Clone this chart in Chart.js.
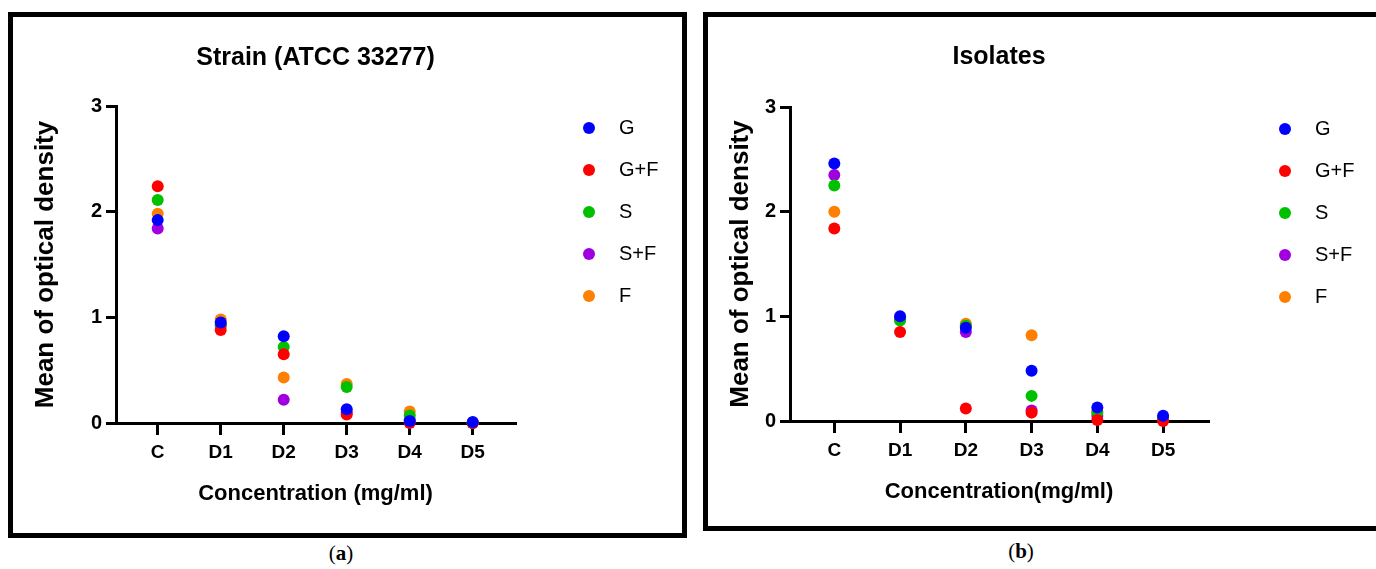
<!DOCTYPE html>
<html>
<head>
<meta charset="utf-8">
<script src="https://cdn.jsdelivr.net/npm/chart.js@4.4.1/dist/chart.umd.min.js"></script>
<style>
  html, body { margin:0; padding:0; background:#fff; width:1376px; height:569px; overflow:hidden; position:relative; }
  .panel { position:absolute; border:5px solid #000; background:#fff; }
  .panel canvas { display:block; }
  .cap { position:absolute; width:60px; text-align:center; font-family:'Liberation Serif','DejaVu Serif',serif; font-size:21px; line-height:24px; color:#000; }
</style>
</head>
<body>
<div class="panel" style="left:8px;top:12px;width:669px;height:516px;"><canvas id="c1" width="669" height="516"></canvas></div>
<div class="panel" style="left:703px;top:12px;width:669px;height:509px;"><canvas id="c2" width="669" height="509"></canvas></div>
<div class="cap" style="left:311px;top:541px;">(<b>a</b>)</div>
<div class="cap" style="left:991px;top:539px;">(<b>b</b>)</div>
<script>
// ---- data ----
const categories = ['C', 'D1', 'D2', 'D3', 'D4', 'D5'];
const seriesNames = ['G', 'G+F', 'S', 'S+F', 'F'];
const seriesColors = ['#0000FF', '#FF0000', '#00C000', '#A000E0', '#FF8000'];
const yTicks = [0, 1, 2, 3];

// Strain (ATCC 33277)
const strainG  = [1.92, 0.95, 0.82, 0.13, 0.02, 0.01];
const strainGF = [2.24, 0.88, 0.65, 0.08, 0.00, 0.00];
const strainS  = [2.11, 0.93, 0.72, 0.34, 0.07, 0.00];
const strainSF = [1.84, 0.92, 0.22, 0.10, 0.03, 0.00];
const strainF  = [1.98, 0.98, 0.43, 0.37, 0.11, 0.00];

// Isolates
const isoG  = [2.46, 1.00, 0.89, 0.48, 0.13, 0.05];
const isoGF = [1.84, 0.85, 0.12, 0.08, 0.01, 0.00];
const isoS  = [2.25, 0.96, 0.91, 0.24, 0.08, 0.03];
const isoSF = [2.35, 0.97, 0.85, 0.10, 0.05, 0.02];
const isoF  = [2.00, 0.98, 0.93, 0.82, 0.09, 0.02];

Chart.defaults.font.family = "'Liberation Sans', Arial, sans-serif";
Chart.defaults.color = '#000';

function dotImage(color) {
  const c = document.createElement('canvas');
  c.width = 14; c.height = 14;
  const x = c.getContext('2d');
  x.fillStyle = color;
  x.beginPath(); x.arc(7, 7, 6, 0, Math.PI * 2); x.fill();
  return c;
}
const legendDots = seriesColors.map(dotImage);

const legendPos = {
  id: 'legendPos',
  afterLayout(chart, args, opts) {
    const lg = chart.legend;
    if (lg) {
      lg.left = opts.left; lg.top = opts.top;
      lg.width = 130; lg.height = 240;
      lg.right = opts.left + 130; lg.bottom = opts.top + 240;
    }
  }
};

function makeChart(id, title, xTitle, seriesValues, cfg) {
  const datasets = seriesValues.map((vals, i) => ({
    label: seriesNames[i],
    data: vals.map((v, j) => ({ x: j, y: v })),
    backgroundColor: seriesColors[i],
    borderColor: seriesColors[i],
    pointRadius: 6,
    pointBorderWidth: 0,
    pointHoverRadius: 6,
    showLine: false,
    clip: false
  }));
  return new Chart(document.getElementById(id), {
    type: 'scatter',
    data: { datasets },
    plugins: [legendPos],
    options: {
      responsive: false,
      animation: false,
      devicePixelRatio: 1,
      layout: { padding: { top: 10, left: 17, right: cfg.padRight, bottom: 0 } },
      plugins: {
        tooltip: { enabled: false },
        title: {
          display: true, text: title, fullSize: false, color: '#000',
          font: { size: 25, weight: 'bold' },
          padding: { top: cfg.titleTop, bottom: cfg.titleBottom }
        },
        legend: {
          display: true, position: 'chartArea', align: 'start',
          labels: {
            usePointStyle: true, pointStyleWidth: 40, boxHeight: 12,
            padding: 22, color: '#000',
            font: { size: 20, weight: 'normal' },
            generateLabels: () => seriesNames.map((n, i) => ({
              text: n, fillStyle: seriesColors[i], strokeStyle: seriesColors[i],
              lineWidth: 0, pointStyle: legendDots[i], hidden: false, datasetIndex: i, fontColor: '#000'
            }))
          }
        },
        legendPos: { left: cfg.legendLeft, top: cfg.legendTop }
      },
      scales: {
        x: {
          type: 'linear', min: cfg.xMin, max: cfg.xMax,
          afterBuildTicks: (s) => { s.ticks = categories.map((c, i) => ({ value: i })); },
          afterFit: (s) => { s.height = cfg.xHeight; },
          ticks: {
            autoSkip: false, maxRotation: 0, padding: 6, color: '#000',
            font: { size: 19, weight: 'bold' },
            callback: (v) => categories[v]
          },
          grid: { display: true, drawOnChartArea: false, drawTicks: true, tickLength: 12, tickWidth: 3, tickColor: '#000', color: '#000', lineWidth: 3 },
          border: { display: true, color: '#000', width: 3 },
          title: { display: true, text: xTitle, color: '#000', font: { size: 22, weight: 'bold' }, padding: { top: 0, bottom: cfg.xTitleBottom } }
        },
        y: {
          type: 'linear', min: 0, max: 3,
          afterBuildTicks: (s) => { s.ticks = yTicks.map(v => ({ value: v })); },
          afterFit: (s) => { s.width = cfg.yWidth; },
          ticks: { padding: 4, color: '#000', font: { size: 20, weight: 'bold' } },
          grid: { display: true, drawOnChartArea: false, drawTicks: true, tickLength: 10, tickWidth: 3, tickColor: '#000', color: '#000', lineWidth: 3 },
          border: { display: true, color: '#000', width: 3 },
          title: { display: true, text: 'Mean of optical density', color: '#000', font: { size: 26, weight: 'bold' }, padding: { top: 0, bottom: 0 } }
        }
      }
    }
  });
}

makeChart('c1', 'Strain (ATCC 33277)', 'Concentration (mg/ml)',
  [strainG, strainGF, strainS, strainSF, strainF],
  { padRight: 167, titleTop: 16, titleBottom: 33, xMin: -0.662, xMax: 5.671, xHeight: 110, xTitleBottom: 26, yWidth: 86, legendLeft: 534, legendTop: 79 });

makeChart('c2', 'Isolates', 'Concentration(mg/ml)',
  [isoG, isoGF, isoS, isoSF, isoF],
  { padRight: 169, titleTop: 15, titleBottom: 35, xMin: -0.674, xMax: 5.683, xHeight: 105, xTitleBottom: 21, yWidth: 65, legendLeft: 535, legendTop: 80 });
</script>
</body>
</html>
